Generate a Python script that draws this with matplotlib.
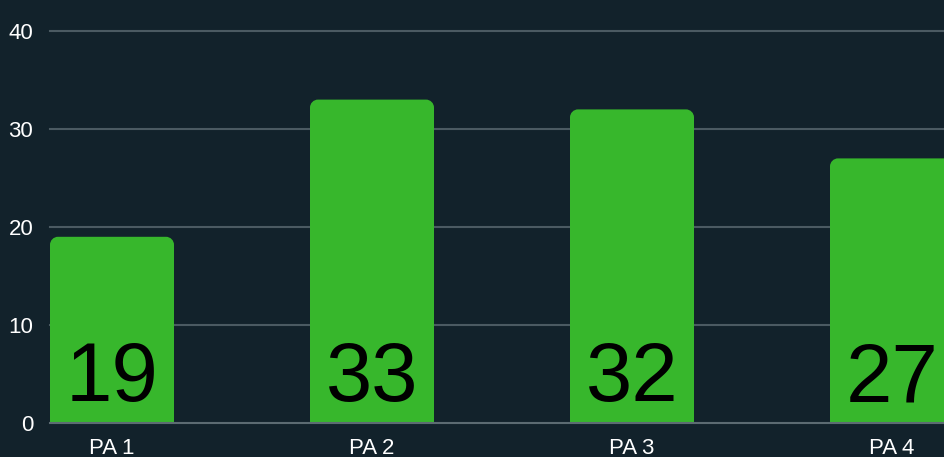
import matplotlib
matplotlib.use("Agg")
import matplotlib.pyplot as plt
from matplotlib.path import Path
from matplotlib.patches import PathPatch

categories = ["PA 1", "PA 2", "PA 3", "PA 4"]
values = [19, 33, 32, 27]
yticks = [0, 10, 20, 30, 40]

BG = "#12222b"
BAR = "#37b72c"
GRID = "#4b5a62"

plt.rcParams['font.family'] = ['Liberation Sans', 'DejaVu Sans']

W, H, DPI = 945, 457, 100
fig = plt.figure(figsize=(W / DPI, H / DPI), dpi=DPI, facecolor=BG)
left, right, bottom, top = 50, 945, 457 - 423, 457 - 31
ax = fig.add_axes([left / W, bottom / H, (right - left) / W, (top - bottom) / H])
ax.set_facecolor(BG)

xs = list(range(len(categories)))
bar_w = 124 / 260
ax.set_xlim((50 - 112) / 260, (945 - 112) / 260)
ax.set_ylim(0, 40)

bars = ax.bar(xs, values, width=bar_w, color=BAR, zorder=2)

# rounded top corners (radius in pixels -> data units)
r_px = 8
sx = (ax.get_xlim()[1] - ax.get_xlim()[0]) / (right - left)
sy = (ax.get_ylim()[1] - ax.get_ylim()[0]) / (top - bottom)
rx, ry = r_px * sx, r_px * sy
k = 0.5523
for rect in bars:
    x0 = rect.get_x()
    w = rect.get_width()
    h = rect.get_height()
    x1 = x0 + w
    verts = [
        (x0, 0), (x0, h - ry),
        (x0, h - ry + k * ry), (x0 + rx - k * rx, h), (x0 + rx, h),
        (x1 - rx, h),
        (x1 - rx + k * rx, h), (x1, h - ry + k * ry), (x1, h - ry),
        (x1, 0), (x0, 0),
    ]
    codes = [Path.MOVETO, Path.LINETO,
             Path.CURVE4, Path.CURVE4, Path.CURVE4,
             Path.LINETO,
             Path.CURVE4, Path.CURVE4, Path.CURVE4,
             Path.LINETO, Path.CLOSEPOLY]
    ax.add_patch(PathPatch(Path(verts, codes), facecolor=BAR, edgecolor='none', zorder=2))
    rect.set_visible(False)

for x, v in zip(xs, values):
    ax.annotate(str(v), xy=(x, 0), xytext=(0, 15.5), textcoords='offset points',
                ha='center', va='baseline', fontsize=60, color='black', zorder=3)

ax.set_yticks(yticks)
ax.set_yticklabels([str(t) for t in yticks])
ax.set_xticks(xs)
ax.set_xticklabels(categories)
ax.tick_params(axis='y', length=0, pad=12, labelsize=16, labelcolor='white')
ax.tick_params(axis='x', length=0, pad=10.5, labelsize=16, labelcolor='white')

for t in yticks[1:]:
    ax.axhline(t, color=GRID, lw=1.5, zorder=1, clip_on=False)

for s in ['top', 'right', 'left']:
    ax.spines[s].set_visible(False)
ax.spines['bottom'].set_color('#5c6b72')
ax.spines['bottom'].set_linewidth(1.5)
ax.spines['bottom'].set_zorder(3)

fig.savefig("out.png", dpi=DPI, facecolor=BG)
